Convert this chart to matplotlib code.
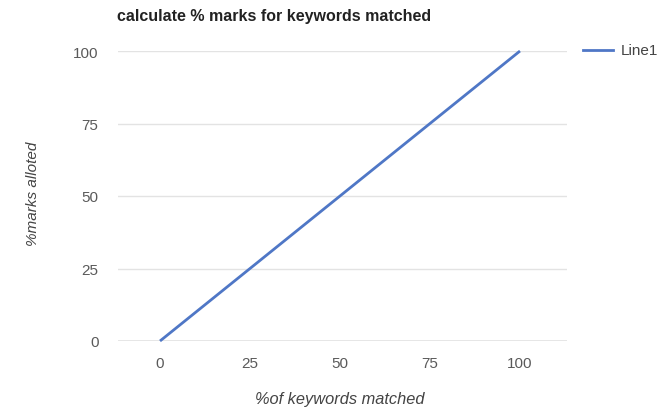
import matplotlib
matplotlib.use("Agg")
import matplotlib.pyplot as plt

plt.rcParams['font.family'] = ['Liberation Sans', 'DejaVu Sans']

# Data
keywords_matched = [0, 100]
marks_alloted = [0, 100]
x_ticks = [0, 25, 50, 75, 100]
y_ticks = [0, 25, 50, 75, 100]
series_name = "Line1"

W, H = 660, 410
fig = plt.figure(figsize=(W / 100, H / 100), dpi=100)
ax = fig.add_axes([118 / W, 1 - 342 / H, (567 - 118) / W, (342 - 52) / H])

line_color = '#4f77c6'
ax.plot(keywords_matched, marks_alloted, color=line_color, lw=2, label=series_name,
        solid_capstyle='butt', zorder=3, clip_on=False)

ax.set_xlim(-11.67, 113.06)
ax.set_ylim(0, 100)

# Horizontal gridlines, baseline darker
for y in y_ticks:
    ax.axhline(y, color='#e3e3e3' if y != 0 else '#808080', lw=1, zorder=1)

for s in ax.spines.values():
    s.set_visible(False)

ax.set_xticks(x_ticks)
ax.set_yticks(y_ticks)
ax.tick_params(length=0, labelsize=11, colors='#5a5a5a')
ax.tick_params(axis='x', pad=11)
ax.tick_params(axis='y', pad=14)

# Axis titles
fig.text(340 / W, 1 - 400 / H, "%of keywords matched", style='italic', fontsize=11.8,
         color='#444444', ha='center', va='center')
fig.text(33 / W, 1 - 194 / H, "%marks alloted", style='italic', fontsize=11,
         color='#444444', ha='center', va='center', rotation=90)

# Chart title
fig.text(117 / W, 1 - 17 / H, "calculate % marks for keywords matched", fontsize=11.5,
         fontweight='bold', color='#222222', va='center', ha='left')

# Legend entry
fig.lines.append(plt.Line2D([583 / W, 613 / W], [1 - 51 / H, 1 - 51 / H],
                            transform=fig.transFigure, color=line_color, lw=2))
fig.text(621 / W, 1 - 51 / H, series_name, fontsize=11, color='#444444',
         va='center', ha='left')

fig.savefig("out.png", dpi=100, facecolor='white')
